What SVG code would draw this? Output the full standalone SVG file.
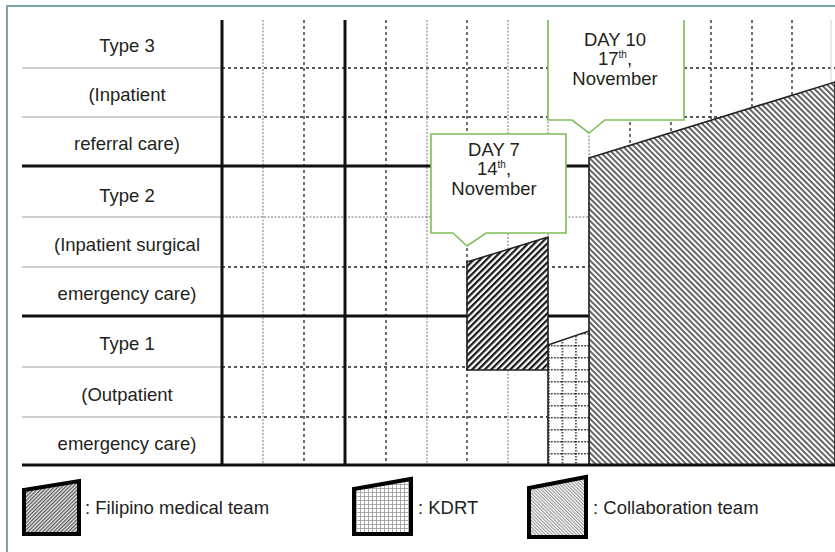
<svg xmlns="http://www.w3.org/2000/svg" width="835" height="552" viewBox="0 0 835 552">
<defs>
<style>
text{font-family:"Liberation Sans",Arial,sans-serif;fill:#231f20;}
.lbl{font-size:18.5px;text-anchor:middle;}
.leg{font-size:18.5px;}
.co{font-size:18.5px;text-anchor:middle;}
.thick{stroke:#111;stroke-width:3;fill:none;}
.gl{stroke:#cfcfcf;stroke-width:2;fill:none;}
.dk{stroke:#222;stroke-width:1.3;stroke-dasharray:3 3;fill:none;}
.gy{stroke:#777;stroke-width:1;stroke-dasharray:2 1.5;fill:none;}
.lt{stroke:#d8d8d8;stroke-width:1.2;fill:none;}
.call{fill:#fff;stroke:#7cbf58;stroke-width:1.6;}
.shape{stroke:#222;stroke-width:1.6;}
.legicon{stroke:#000;stroke-width:4;}
</style>
<pattern id="pDark" patternUnits="userSpaceOnUse" width="4.5" height="4.5" patternTransform="rotate(45)">
<rect width="4.5" height="4.5" fill="#fff"/>
<line x1="1" y1="0" x2="1" y2="4.5" stroke="#1a1a1a" stroke-width="2.5"/>
</pattern>
<pattern id="pColl" patternUnits="userSpaceOnUse" width="4" height="4" patternTransform="rotate(-45)">
<rect width="4" height="4" fill="#fff"/>
<line x1="1" y1="0" x2="1" y2="4" stroke="#333" stroke-width="1.5"/>
</pattern>
<pattern id="pGrid" patternUnits="userSpaceOnUse" x="548" y="333" width="13.6" height="12">
<rect width="13.6" height="12" fill="#fff"/>
<line x1="0.8" y1="0" x2="0.8" y2="12" stroke="#222" stroke-width="1.5" stroke-dasharray="1.5 1.5"/>
<line x1="0" y1="0.8" x2="13.6" y2="0.8" stroke="#222" stroke-width="1.5" stroke-dasharray="1.5 1.5"/>
</pattern>
<pattern id="lDark" patternUnits="userSpaceOnUse" width="2.6" height="2.6" patternTransform="rotate(45)">
<rect width="2.6" height="2.6" fill="#eee"/>
<line x1="0.6" y1="0" x2="0.6" y2="2.6" stroke="#555" stroke-width="1.3"/>
</pattern>
<pattern id="lColl" patternUnits="userSpaceOnUse" width="2.4" height="2.4" patternTransform="rotate(-45)">
<rect width="2.4" height="2.4" fill="#fff"/>
<line x1="0.6" y1="0" x2="0.6" y2="2.4" stroke="#888" stroke-width="1"/>
</pattern>
<pattern id="lGrid" patternUnits="userSpaceOnUse" width="4" height="4">
<rect width="4" height="4" fill="#fff"/>
<path d="M0.5 0V4M0 0.5H4" stroke="#999" stroke-width="0.8"/>
</pattern>
</defs>

<rect width="835" height="552" fill="#fff"/>
<!-- outer frame -->
<path d="M7 552V6H835" fill="none" stroke="#7ba7a9" stroke-width="2"/>

<!-- grid -->
<g id="grid">
<path class="gl" d="M22 68H222M22 117H222M22 217H222M22 267H222M22 367H222M22 417H222"/>
<path class="dk" d="M222 68H835M222 117H835M222 267H835M222 367H835M222 417H835"/>
<path class="gy" d="M222 217H835"/>
<path class="gy" d="M263 20V465M427 20V465M508 20V465M548 20V465M589 20V465"/>
<path class="dk" d="M304 20V465M386 20V465M467 20V465M630 20V465M671 20V465M711 20V465M752 20V465M792 20V465"/>
<path class="lt" d="M831 20V465"/>
<path class="thick" d="M22 166H835M22 316H835M222 20V465M345 20V465"/>
</g>

<!-- team areas -->
<g id="collaboration-area">
<polygon class="shape" points="589,158 835,82 835,465 589,465" fill="url(#pColl)"/>
</g>
<g id="kdrt-area">
<polygon class="shape" points="548,345 589,331 589,465 548,465" fill="url(#pGrid)"/>
</g>
<g id="filipino-area">
<polygon class="shape" points="467,262 548,237 548,370 467,370" fill="url(#pDark)"/>
</g>
<path class="thick" d="M22 465H835"/>

<!-- row labels -->
<g id="labels">
<text class="lbl" x="127" y="52">Type 3</text>
<text class="lbl" x="127" y="101">(Inpatient</text>
<text class="lbl" x="127" y="150">referral care)</text>
<text class="lbl" x="127" y="202">Type 2</text>
<text class="lbl" x="127" y="251">(Inpatient surgical</text>
<text class="lbl" x="127" y="300">emergency care)</text>
<text class="lbl" x="127" y="350">Type 1</text>
<text class="lbl" x="127" y="401">(Outpatient</text>
<text class="lbl" x="127" y="450">emergency care)</text>
</g>

<!-- callouts -->
<g id="day10">
<path class="call" d="M548 20V120H572L589 133L605 120H684V20"/>
<text class="co" x="615" y="46">DAY 10<tspan x="615" dy="19">17</tspan><tspan font-size="10" dy="-7">th</tspan><tspan dy="7">,</tspan><tspan x="615" dy="19.5">November</tspan></text>
</g>
<g id="day7">
<path class="call" d="M431 134V233H453L467 246L486 233H566V134Z"/>
<text class="co" x="494" y="156">DAY 7<tspan x="494" dy="19">14</tspan><tspan font-size="10" dy="-7">th</tspan><tspan dy="7">,</tspan><tspan x="494" dy="20">November</tspan></text>
</g>

<!-- legend -->
<g id="legend-filipino">
<polygon class="legicon" points="24,490 79,481 79,534 24,534" fill="url(#lDark)"/>
<text class="leg" x="85" y="514">: Filipino medical team</text>
</g>
<g id="legend-kdrt">
<polygon class="legicon" points="354,489 411,479 411,534 354,534" fill="url(#lGrid)"/>
<text class="leg" x="418" y="514">: KDRT</text>
</g>
<g id="legend-collab">
<polygon class="legicon" points="529,488 586,477 586,537 529,537" fill="url(#lColl)"/>
<text class="leg" x="593" y="514">: Collaboration team</text>
</g>
</svg>
